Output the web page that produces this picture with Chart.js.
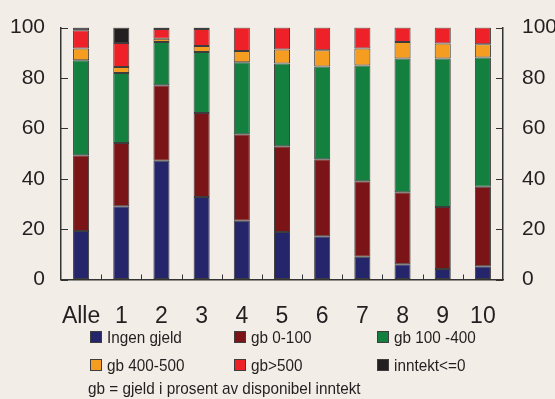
<!DOCTYPE html>
<html>
<head>
<meta charset="utf-8">
<script src="https://cdn.jsdelivr.net/npm/chart.js@4.4.1/dist/chart.umd.min.js"></script>
<style>
  html, body { margin: 0; padding: 0; background: #f2eee7; }
  #wrap { position: relative; width: 555px; height: 399px; overflow: hidden; }
  #chart { position: absolute; left: 0; top: -4px; }
  .leg { position: absolute; font-family: "Liberation Sans", Arial, sans-serif; font-size: 17px; color: #231f20; white-space: nowrap; line-height: 17px; transform: scaleX(0.9); transform-origin: 0 0; }
  .box { position: absolute; width: 10px; height: 10px; border: 1px solid #3d3d3d; }
</style>
</head>
<body>
<div id="wrap">
  <canvas id="chart" width="555" height="403"></canvas>
  <div id="legend"></div>
</div>
<script>
// ====== DATA ======
const categories = ["Alle", "1", "2", "3", "4", "5", "6", "7", "8", "9", "10"];
const yTicks = [0, 20, 40, 60, 80, 100];

const ingenGjeld = [19.3, 29.1, 47.1, 32.8, 23.3, 18.9, 17.2, 9.0, 6.1, 4.2, 5.3];
const gb0_100    = [30.0, 25.1, 30.0, 33.3, 34.4, 34.0, 30.5, 30.0, 28.5, 24.6, 31.5];
const gb100_400  = [37.7, 27.8, 17.2, 24.2, 28.5, 32.8, 36.9, 46.0, 53.1, 58.9, 51.3];
const gb400_500  = [4.7, 2.4, 1.3, 2.4, 4.5, 5.6, 6.4, 6.7, 6.6, 6.0, 5.3];
const gbOver500  = [7.2, 9.5, 3.8, 6.7, 9.3, 8.7, 9.0, 8.3, 5.7, 6.3, 6.6];
const inntekt0   = [1.1, 6.1, 0.6, 0.6, 0, 0, 0, 0, 0, 0, 0];

const seriesLabels = ["Ingen gjeld", "gb 0-100", "gb 100 -400", "gb 400-500", "gb>500", "inntekt<=0"];
const seriesColors = ["#25256b", "#7a1416", "#13803f", "#f59d20", "#ed2127", "#231f20"];
const seriesData = [ingenGjeld, gb0_100, gb100_400, gb400_500, gbOver500, inntekt0];
const footnote = "gb = gjeld i prosent av disponibel inntekt";

const axisColor = "#333333";
const tickFont = '"Liberation Sans", Arial, sans-serif';

// ====== TICKS INSIDE THE PLOT ======
const innerTicks = {
  id: "innerTicks",
  afterDatasetsDraw(chart) {
    const { ctx, chartArea: a, scales } = chart;
    const x = scales.x, y = scales.y;
    ctx.save();
    ctx.strokeStyle = axisColor;
    ctx.lineWidth = 1;
    ctx.beginPath();
    yTicks.forEach(v => {
      const py = Math.round(y.getPixelForValue(v)) + 0.5;
      ctx.moveTo(a.left, py); ctx.lineTo(a.left + 7, py);
      ctx.moveTo(a.right, py); ctx.lineTo(a.right - 7, py);
    });
    for (let i = 1; i < categories.length; i++) {
      const px = Math.round((x.getPixelForValue(i - 1) + x.getPixelForValue(i)) / 2) + 0.5;
      ctx.moveTo(px, a.bottom); ctx.lineTo(px, a.bottom - 5);
    }
    ctx.stroke();
    ctx.restore();
  }
};

// ====== CHART ======
const ctx = document.getElementById("chart").getContext("2d");

const chart = new Chart(ctx, {
  type: "bar",
  data: {
    labels: categories,
    datasets: seriesData.map((d, i) => ({
      label: seriesLabels[i],
      data: d.map(v => v || null),
      backgroundColor: seriesColors[i],
      borderColor: "#3d3d3d",
      borderWidth: 1,
      borderSkipped: false,
      barPercentage: 0.4,
      categoryPercentage: 1
    }))
  },
  options: {
    responsive: false,
    animation: false,
    layout: { padding: { top: 23.5, left: 0, right: 0, bottom: 0 } },
    plugins: {
      legend: { display: false },
      tooltip: { enabled: false }
    },
    scales: {
      x: {
        stacked: true,
        grid: { display: true, drawOnChartArea: false, drawTicks: false },
        border: { display: true, color: axisColor, width: 1.5 },
        ticks: { color: "#231f20", padding: 23, maxRotation: 0, minRotation: 0, autoSkip: false, font: { family: tickFont, size: 23 } },
        afterFit(scale) { scale.height = 119.5; }
      },
      y: {
        stacked: true,
        position: "left",
        min: 0, max: 100,
        grid: { display: true, drawOnChartArea: false, drawTicks: false },
        border: { display: true, color: axisColor, width: 1.5 },
        ticks: { stepSize: 20, color: "#231f20", padding: 16, font: { family: tickFont, size: 21 } },
        afterFit(scale) { scale.width = 61; }
      },
      y2: {
        position: "right",
        min: 0, max: 100,
        grid: { display: true, drawOnChartArea: false, drawTicks: false },
        border: { display: true, color: axisColor, width: 1.5 },
        ticks: { stepSize: 20, color: "#231f20", padding: 19, font: { family: tickFont, size: 21 } },
        afterFit(scale) { scale.width = 52; }
      }
    }
  },
  plugins: [innerTicks]
});

// ====== LEGEND (html) ======
const legend = document.getElementById("legend");
const legCols = [90, 234, 377];
const legRows = [331, 359];
seriesLabels.forEach((lab, i) => {
  const bx = legCols[i % 3], by = legRows[Math.floor(i / 3)];
  const box = document.createElement("div");
  box.className = "box";
  box.style.left = bx + "px";
  box.style.top = by + "px";
  box.style.background = seriesColors[i];
  legend.appendChild(box);
  const t = document.createElement("div");
  t.className = "leg";
  t.style.left = (bx + 17) + "px";
  t.style.top = (by - 2) + "px";
  t.textContent = lab;
  legend.appendChild(t);
});
const fn = document.createElement("div");
fn.className = "leg";
fn.style.left = "88px";
fn.style.top = "380px";
fn.textContent = footnote;
legend.appendChild(fn);
</script>
</body>
</html>
